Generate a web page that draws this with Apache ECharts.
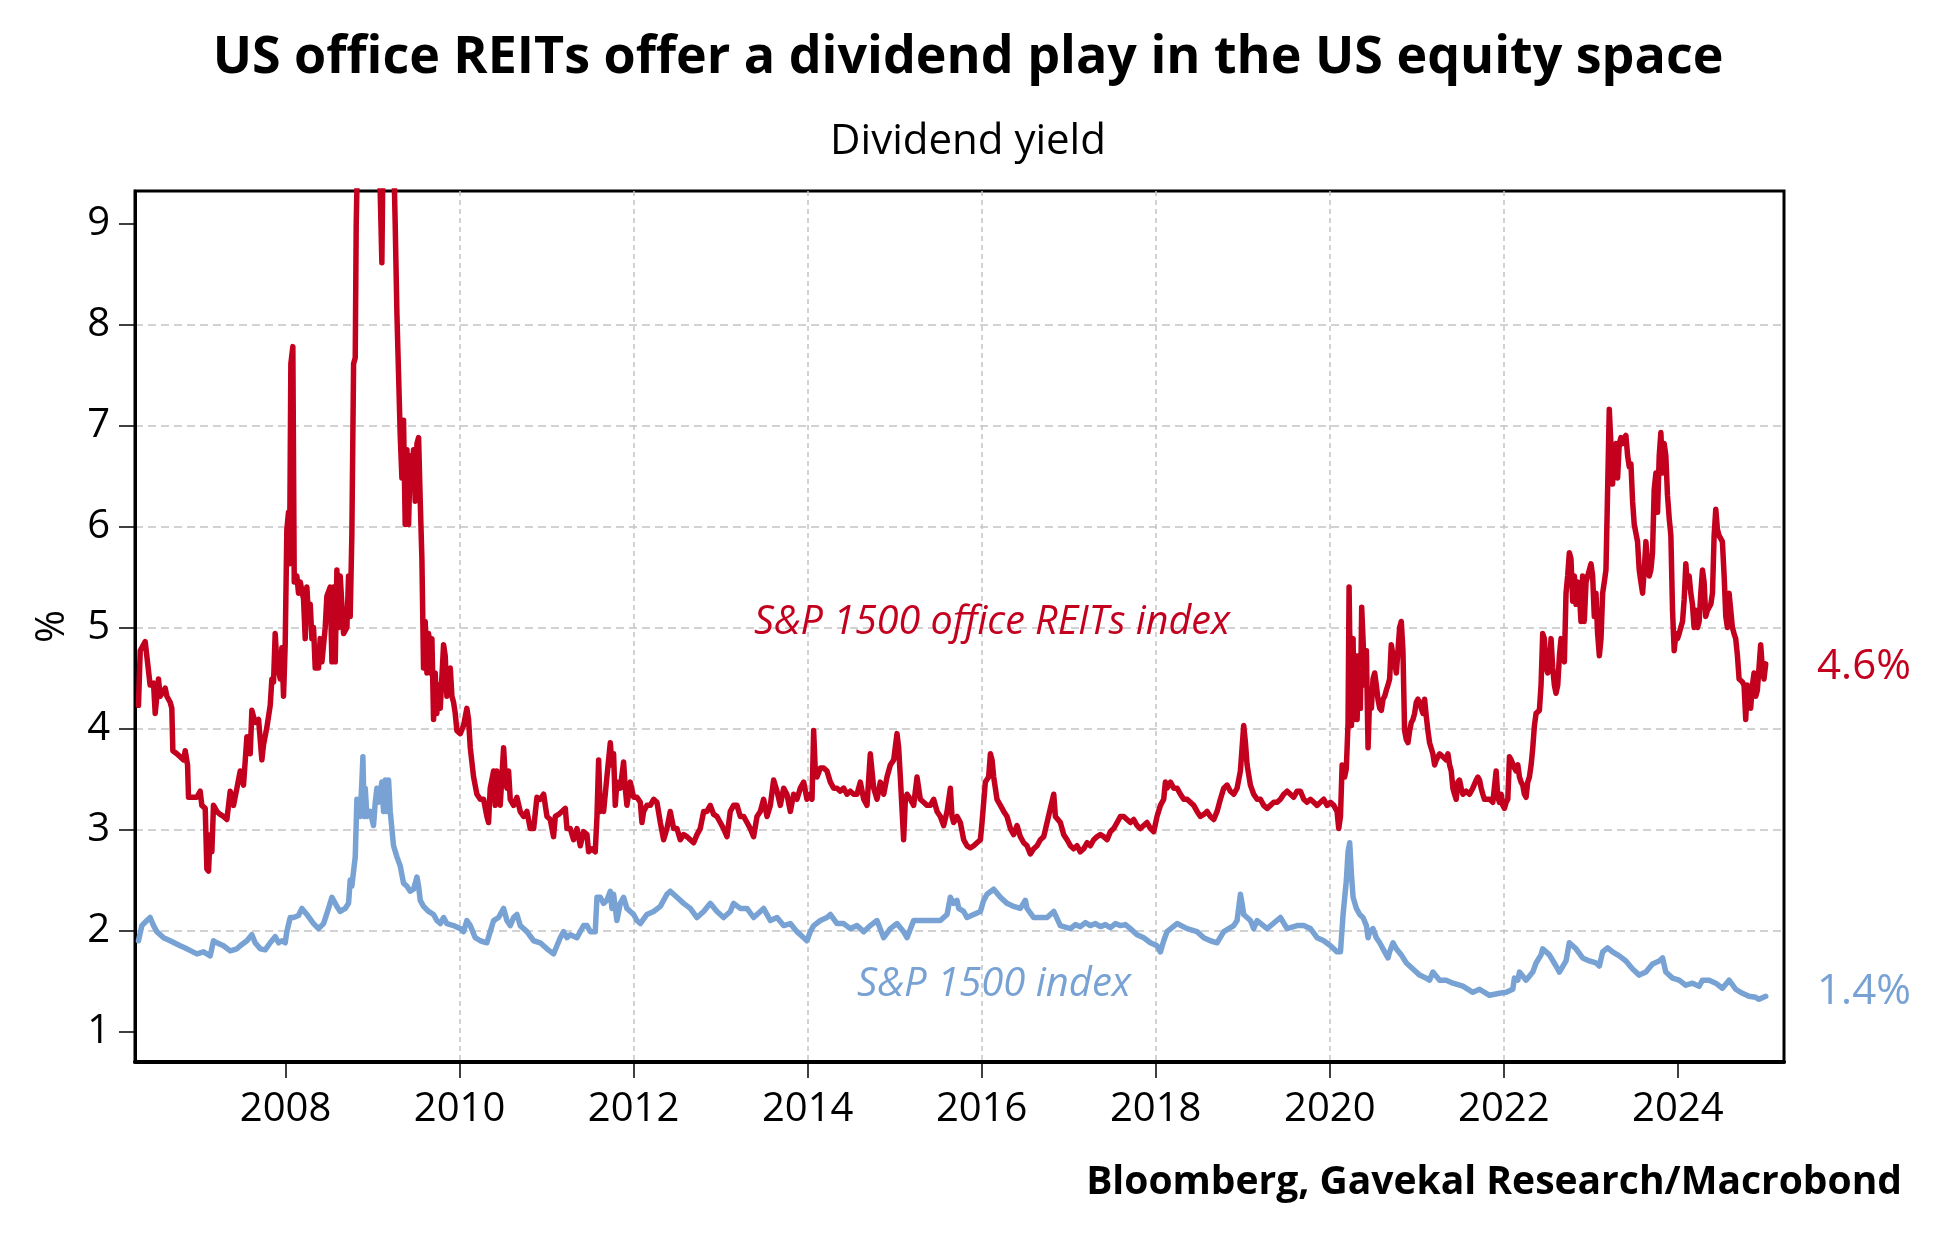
<!DOCTYPE html>
<html>
<head>
<meta charset="utf-8">
<title>US office REITs dividend yield</title>
<script src="https://cdn.jsdelivr.net/npm/echarts@6.0.0/dist/echarts.min.js"></script>
<style>
  html, body { margin: 0; padding: 0; background: #ffffff; }
  #chart { width: 1937px; height: 1250px; }
</style>
</head>
<body>
<div id="chart"></div>
<script>
// ---------- DATA ----------
const chartTitle = 'US office REITs offer a dividend play in the US equity space';
const chartSubtitle = 'Dividend yield';
const sourceText = 'Bloomberg, Gavekal Research/Macrobond';
const reitName = 'S&P 1500 office REITs index';
const spxName = 'S&P 1500 index';
const reitLast = '4.6%';
const spxLast = '1.4%';
const yAxisName = '%';

const xTickYears = [2008, 2010, 2012, 2014, 2016, 2018, 2020, 2022, 2024];
const yTickValues = [1, 2, 3, 4, 5, 6, 7, 8, 9];

// S&P 1500 office REITs index dividend yield (%), decimal years
const reitYears = [
2006.31,2006.33,2006.387,2006.444,2006.483,2006.502,2006.54,2006.559,2006.617,2006.636,2006.674,2006.693,2006.705,2006.751,2006.828,2006.847,2006.874,2006.885,2006.981,
2007.019,2007.038,2007.077,2007.096,2007.115,2007.134,2007.153,2007.172,2007.211,2007.249,2007.287,2007.326,2007.364,2007.402,2007.441,2007.479,2007.517,2007.556,2007.594,2007.613,2007.651,2007.69,2007.728,2007.747,2007.785,2007.824,2007.843,2007.862,2007.881,2007.9,2007.939,2007.958,2007.977,2007.996,
2008.015,2008.034,2008.046,2008.061,2008.084,2008.1,2008.13,2008.149,2008.169,2008.207,2008.226,2008.245,2008.264,2008.284,2008.303,2008.322,2008.341,2008.379,2008.398,2008.418,2008.456,2008.475,2008.513,2008.533,2008.552,2008.571,2008.59,2008.609,2008.628,2008.667,2008.705,2008.724,2008.743,2008.762,2008.782,2008.801,2008.812,2008.839,2008.877,2008.935,
2009.011,2009.069,2009.107,2009.126,2009.184,2009.222,2009.26,2009.28,2009.299,2009.318,2009.337,2009.356,2009.375,2009.395,2009.414,2009.433,2009.452,2009.471,2009.49,2009.51,2009.529,2009.548,2009.567,2009.586,2009.605,2009.625,2009.644,2009.663,2009.682,2009.701,2009.72,2009.739,2009.759,2009.778,2009.816,2009.835,2009.854,2009.874,2009.893,2009.912,2009.931,2009.95,2009.969,
2010.008,2010.046,2010.084,2010.103,2010.123,2010.161,2010.199,2010.238,2010.276,2010.314,2010.333,2010.352,2010.391,2010.41,2010.429,2010.467,2010.506,2010.525,2010.544,2010.563,2010.582,2010.621,2010.659,2010.697,2010.736,2010.774,2010.812,2010.851,2010.889,2010.927,2010.966,
2011.004,2011.042,2011.08,2011.1,2011.138,2011.176,2011.215,2011.234,2011.272,2011.31,2011.349,2011.387,2011.425,2011.464,2011.483,2011.521,2011.559,2011.579,2011.598,2011.617,2011.636,2011.655,2011.693,2011.732,2011.751,2011.77,2011.789,2011.808,2011.847,2011.885,2011.904,2011.923,2011.962,
2012.0,2012.038,2012.077,2012.096,2012.115,2012.153,2012.192,2012.23,2012.268,2012.307,2012.345,2012.383,2012.421,2012.46,2012.498,2012.536,2012.575,2012.613,2012.651,2012.69,2012.728,2012.766,2012.805,2012.843,2012.881,2012.92,2012.958,2012.996,
2013.034,2013.073,2013.111,2013.149,2013.188,2013.226,2013.264,2013.303,2013.341,2013.379,2013.418,2013.456,2013.494,2013.533,2013.571,2013.609,2013.648,2013.686,2013.724,2013.762,2013.801,2013.839,2013.877,2013.916,2013.954,2013.992,
2014.031,2014.05,2014.069,2014.088,2014.107,2014.146,2014.184,2014.222,2014.261,2014.299,2014.337,2014.375,2014.414,2014.452,2014.49,2014.529,2014.567,2014.605,2014.644,2014.682,2014.72,2014.759,2014.797,2014.835,2014.874,2014.912,2014.95,2014.989,
2015.027,2015.046,2015.065,2015.103,2015.123,2015.142,2015.18,2015.218,2015.257,2015.276,2015.295,2015.333,2015.372,2015.41,2015.448,2015.487,2015.525,2015.563,2015.602,2015.64,2015.659,2015.678,2015.716,2015.755,2015.793,2015.831,2015.87,2015.908,2015.946,2015.985,
2016.004,2016.042,2016.08,2016.1,2016.119,2016.138,2016.157,2016.176,2016.215,2016.253,2016.291,2016.33,2016.368,2016.406,2016.444,2016.483,2016.521,2016.559,2016.598,2016.636,2016.674,2016.713,2016.751,2016.789,2016.828,2016.847,2016.866,2016.904,2016.943,2016.981,
2017.019,2017.057,2017.096,2017.134,2017.172,2017.211,2017.249,2017.287,2017.326,2017.364,2017.402,2017.441,2017.479,2017.517,2017.556,2017.594,2017.632,2017.67,2017.709,2017.747,2017.785,2017.824,2017.862,2017.9,2017.939,2017.977,
2018.015,2018.054,2018.092,2018.111,2018.13,2018.169,2018.207,2018.245,2018.284,2018.322,2018.36,2018.398,2018.437,2018.475,2018.513,2018.552,2018.59,2018.628,2018.667,2018.705,2018.743,2018.782,2018.82,2018.858,2018.897,2018.935,2018.973,
2019.011,2019.031,2019.05,2019.088,2019.126,2019.165,2019.203,2019.241,2019.28,2019.318,2019.356,2019.395,2019.433,2019.471,2019.51,2019.548,2019.586,2019.625,2019.663,2019.701,2019.739,2019.778,2019.816,2019.854,2019.893,2019.931,2019.969,
2020.008,2020.046,2020.084,2020.103,2020.123,2020.142,2020.17,2020.19,2020.21,2020.222,2020.237,2020.249,2020.268,2020.279,2020.298,2020.314,2020.337,2020.352,2020.367,2020.382,2020.402,2020.421,2020.44,2020.459,2020.478,2020.497,2020.516,2020.535,2020.554,2020.574,2020.593,2020.612,2020.631,2020.65,2020.669,2020.688,2020.707,2020.727,2020.746,2020.765,2020.784,2020.803,2020.822,2020.841,2020.86,2020.88,2020.899,2020.918,2020.937,2020.956,2020.975,2020.994,
2021.013,2021.033,2021.052,2021.071,2021.09,2021.109,2021.128,2021.147,2021.185,2021.205,2021.224,2021.262,2021.3,2021.338,2021.358,2021.377,2021.396,2021.415,2021.434,2021.453,2021.472,2021.491,2021.511,2021.53,2021.568,2021.606,2021.644,2021.683,2021.702,2021.721,2021.74,2021.759,2021.778,2021.797,2021.836,2021.874,2021.912,2021.931,2021.95,2021.969,2021.989,
2022.008,2022.027,2022.046,2022.065,2022.084,2022.103,2022.122,2022.141,2022.161,2022.18,2022.199,2022.218,2022.237,2022.256,2022.275,2022.294,2022.314,2022.333,2022.352,2022.371,2022.39,2022.409,2022.428,2022.447,2022.466,2022.486,2022.505,2022.524,2022.543,2022.562,2022.581,2022.6,2022.62,2022.639,2022.658,2022.677,2022.696,2022.715,2022.734,2022.753,2022.772,2022.792,2022.811,2022.83,2022.849,2022.868,2022.887,2022.906,2022.925,2022.945,2022.964,2022.983,
2023.002,2023.021,2023.04,2023.059,2023.078,2023.098,2023.117,2023.136,2023.155,2023.174,2023.193,2023.212,2023.231,2023.25,2023.27,2023.289,2023.308,2023.327,2023.346,2023.365,2023.384,2023.403,2023.423,2023.442,2023.461,2023.48,2023.499,2023.518,2023.537,2023.556,2023.576,2023.595,2023.614,2023.633,2023.652,2023.671,2023.69,2023.709,2023.728,2023.748,2023.767,2023.786,2023.805,2023.824,2023.843,2023.862,2023.881,2023.901,2023.92,2023.939,2023.958,2023.977,2023.996,
2024.015,2024.034,2024.054,2024.073,2024.092,2024.111,2024.13,2024.149,2024.168,2024.187,2024.207,2024.226,2024.245,2024.264,2024.283,2024.302,2024.321,2024.34,2024.359,2024.379,2024.398,2024.417,2024.436,2024.455,2024.474,2024.493,2024.512,2024.532,2024.551,2024.57,2024.589,2024.608,2024.627,2024.646,2024.665,2024.685,2024.704,2024.723,2024.742,2024.761,2024.78,2024.799,2024.818,2024.837,2024.857,2024.876,2024.895,2024.914,2024.933,2024.952,2024.971,2024.99,2025.01
];
const reitYield = [
4.23,4.77,4.86,4.43,4.45,4.15,4.49,4.32,4.40,4.32,4.26,4.20,3.78,3.75,3.69,3.78,3.64,3.32,3.32,
3.38,3.24,3.21,2.61,2.59,2.95,2.78,3.24,3.18,3.15,3.13,3.10,3.38,3.24,3.41,3.58,3.44,3.92,3.75,4.18,4.06,4.09,3.69,3.84,4.01,4.23,4.49,4.46,4.94,4.66,4.49,4.80,4.32,4.83,
5.97,6.14,5.63,7.61,7.78,5.45,5.51,5.34,5.45,5.28,4.89,5.40,5.11,5.23,4.89,5.00,4.60,4.60,4.89,4.66,5.00,5.31,5.40,4.66,5.40,4.66,5.57,5.00,5.51,4.94,5.00,5.51,5.11,5.91,7.61,7.67,8.98,10.2,11.0,11.5,
10.8,10.0,8.61,10.2,11.2,10.5,9.0,8.1,7.5,6.9,6.48,7.05,6.02,6.76,6.02,6.70,6.48,6.76,6.25,6.82,6.88,6.25,5.68,4.60,5.06,4.55,4.94,4.55,4.89,4.09,4.55,4.15,4.43,4.20,4.83,4.72,4.32,4.38,4.60,4.32,4.26,4.15,3.98,
3.95,4.03,4.20,4.09,3.81,3.52,3.35,3.30,3.30,3.13,3.07,3.41,3.58,3.24,3.58,3.24,3.81,3.52,3.41,3.58,3.30,3.24,3.32,3.18,3.13,3.18,3.01,3.01,3.32,3.30,3.35,
3.13,3.10,2.93,3.13,3.15,3.18,3.21,3.01,3.01,2.90,3.01,2.84,2.98,2.95,2.78,2.81,2.78,3.13,3.69,3.18,3.30,3.18,3.52,3.86,3.64,3.75,3.24,3.47,3.41,3.67,3.41,3.24,3.47,
3.32,3.32,3.27,3.07,3.18,3.24,3.24,3.30,3.27,3.07,2.90,3.01,3.18,3.01,3.01,2.90,2.95,2.93,2.90,2.87,2.95,3.01,3.18,3.18,3.24,3.15,3.13,3.07,
3.01,2.93,3.18,3.24,3.24,3.13,3.13,3.07,3.01,2.93,3.13,3.18,3.30,3.13,3.24,3.49,3.38,3.24,3.41,3.35,3.18,3.35,3.30,3.41,3.47,3.30,
3.35,3.30,3.98,3.58,3.52,3.61,3.61,3.58,3.47,3.41,3.41,3.38,3.41,3.35,3.38,3.35,3.35,3.47,3.30,3.24,3.75,3.41,3.30,3.47,3.35,3.52,3.64,3.69,
3.95,3.81,3.52,2.90,3.30,3.35,3.30,3.24,3.52,3.52,3.30,3.27,3.24,3.24,3.30,3.18,3.13,3.04,3.18,3.41,3.13,3.07,3.13,3.07,2.90,2.84,2.82,2.84,2.87,2.90,
3.07,3.47,3.52,3.75,3.69,3.52,3.41,3.30,3.24,3.18,3.13,3.01,2.95,3.04,2.93,2.87,2.84,2.76,2.81,2.84,2.90,2.93,3.07,3.21,3.35,3.13,3.13,3.07,2.95,2.90,
2.84,2.81,2.84,2.78,2.81,2.87,2.84,2.90,2.93,2.95,2.93,2.90,2.98,3.01,3.07,3.13,3.13,3.10,3.07,3.10,3.04,3.01,3.04,3.07,3.01,2.98,
3.13,3.24,3.30,3.47,3.41,3.47,3.41,3.41,3.35,3.30,3.30,3.27,3.24,3.18,3.13,3.15,3.18,3.13,3.10,3.18,3.30,3.41,3.44,3.38,3.35,3.41,3.58,
4.03,3.86,3.64,3.44,3.35,3.30,3.30,3.24,3.21,3.24,3.27,3.27,3.30,3.35,3.38,3.35,3.32,3.38,3.38,3.30,3.27,3.30,3.27,3.24,3.27,3.30,3.24,
3.27,3.24,3.18,3.01,3.13,3.64,3.52,3.60,4.05,5.40,4.43,4.03,4.89,4.09,4.72,4.09,4.72,4.20,5.20,4.89,4.43,4.77,3.81,4.32,4.20,4.49,4.55,4.43,4.29,4.20,4.18,4.29,4.32,4.38,4.43,4.49,4.83,4.72,4.66,4.55,4.55,5.00,5.06,4.77,3.98,3.89,3.86,3.98,4.06,4.09,4.15,4.26,
4.29,4.26,4.20,4.15,4.29,4.12,3.98,3.86,3.75,3.64,3.69,3.75,3.72,3.69,3.75,3.64,3.58,3.41,3.35,3.30,3.47,3.49,3.41,3.35,3.38,3.35,3.41,3.49,3.52,3.49,3.41,3.35,3.30,3.30,3.30,3.27,3.58,3.32,3.27,3.35,3.24,
3.21,3.27,3.30,3.72,3.69,3.69,3.61,3.58,3.64,3.52,3.47,3.44,3.35,3.32,3.47,3.52,3.64,3.81,4.03,4.15,4.15,4.18,4.43,4.94,4.89,4.60,4.55,4.60,4.89,4.60,4.43,4.35,4.43,4.72,4.89,4.89,4.66,5.34,5.51,5.74,5.68,5.26,5.51,5.23,5.45,5.34,5.06,5.51,5.06,5.45,5.51,5.57,
5.63,5.51,5.11,5.34,4.94,4.72,4.89,5.34,5.45,5.57,6.36,7.16,6.82,6.42,6.76,6.82,6.48,6.82,6.88,6.82,6.88,6.90,6.70,6.59,6.62,6.25,6.02,6.02,5.85,5.57,5.45,5.34,5.57,5.85,5.63,5.51,5.57,5.74,6.36,6.53,6.14,6.70,6.93,6.53,6.82,6.70,6.31,6.08,5.91,5.17,4.77,4.94,4.89,
4.94,5.00,5.06,5.28,5.63,5.40,5.51,5.34,5.23,5.00,5.17,5.00,5.06,5.34,5.57,5.45,5.11,5.17,5.17,5.23,5.34,5.91,6.17,5.97,5.91,5.88,5.85,5.51,5.11,5.00,5.34,5.17,5.00,4.94,4.89,4.72,4.49,4.49,4.46,4.43,4.09,4.43,4.32,4.20,4.43,4.55,4.32,4.38,4.38,4.83,4.60,4.49,4.64
];

// S&P 1500 index dividend yield (%), decimal years
const spxYears = [
2006.31,2006.349,2006.406,2006.444,2006.483,2006.521,2006.598,2006.674,2006.789,2006.866,2006.981,
2007.057,2007.134,2007.172,2007.211,2007.287,2007.364,2007.441,2007.479,2007.556,2007.613,2007.651,2007.709,2007.766,2007.824,2007.881,2007.92,2007.958,2007.996,
2008.015,2008.054,2008.092,2008.149,2008.188,2008.245,2008.322,2008.379,2008.437,2008.494,2008.533,2008.59,2008.628,2008.686,2008.724,2008.743,2008.762,2008.801,2008.82,2008.858,2008.877,2008.889,2008.904,2008.916,2008.935,2008.973,
2009.011,2009.031,2009.05,2009.069,2009.107,2009.126,2009.146,2009.165,2009.184,2009.203,2009.241,2009.28,2009.318,2009.356,2009.395,2009.433,2009.471,2009.51,2009.529,2009.548,2009.586,2009.644,2009.701,2009.739,2009.778,2009.816,2009.854,2009.931,
2010.008,2010.046,2010.084,2010.123,2010.18,2010.238,2010.314,2010.352,2010.391,2010.448,2010.506,2010.544,2010.582,2010.621,2010.659,2010.697,2010.774,2010.851,2010.927,
2011.004,2011.08,2011.119,2011.157,2011.195,2011.234,2011.272,2011.349,2011.387,2011.425,2011.464,2011.502,2011.559,2011.579,2011.617,2011.655,2011.693,2011.732,2011.751,2011.77,2011.808,2011.847,2011.885,2011.923,2011.962,
2012.0,2012.038,2012.077,2012.153,2012.23,2012.307,2012.383,2012.421,2012.498,2012.575,2012.651,2012.728,2012.805,2012.881,2012.958,
2013.034,2013.111,2013.149,2013.226,2013.303,2013.379,2013.456,2013.494,2013.571,2013.648,2013.724,2013.801,2013.877,2013.954,2013.992,
2014.031,2014.069,2014.146,2014.222,2014.261,2014.337,2014.414,2014.49,2014.567,2014.644,2014.72,2014.797,2014.874,2014.95,
2015.027,2015.103,2015.142,2015.218,2015.295,2015.372,2015.448,2015.525,2015.602,2015.64,2015.678,2015.716,2015.736,2015.793,2015.831,2015.908,2015.985,
2016.023,2016.061,2016.138,2016.215,2016.291,2016.368,2016.444,2016.502,2016.521,2016.598,2016.674,2016.751,2016.828,2016.904,
2017.019,2017.077,2017.134,2017.192,2017.249,2017.307,2017.364,2017.422,2017.479,2017.537,2017.594,2017.652,2017.709,2017.785,2017.862,2017.939,
2018.015,2018.054,2018.092,2018.13,2018.245,2018.36,2018.475,2018.552,2018.628,2018.705,2018.782,2018.897,2018.935,2018.973,2018.992,
2019.011,2019.088,2019.126,2019.165,2019.28,2019.433,2019.51,2019.625,2019.701,2019.778,2019.854,2019.931,
2020.008,2020.084,2020.123,2020.153,2020.191,2020.21,2020.229,2020.249,2020.268,2020.306,2020.344,2020.382,2020.421,2020.44,2020.459,2020.497,2020.535,2020.574,2020.612,2020.669,2020.688,2020.727,2020.765,2020.822,2020.88,2020.956,
2021.033,2021.109,2021.147,2021.185,2021.262,2021.338,2021.415,2021.53,2021.644,2021.721,2021.836,2021.95,
2022.027,2022.103,2022.122,2022.161,2022.18,2022.256,2022.333,2022.371,2022.428,2022.447,2022.524,2022.6,2022.639,2022.715,2022.753,2022.83,2022.906,2022.983,
2023.059,2023.098,2023.136,2023.193,2023.25,2023.327,2023.403,2023.48,2023.556,2023.633,2023.709,2023.786,2023.824,2023.862,2023.939,
2024.015,2024.092,2024.168,2024.245,2024.283,2024.359,2024.436,2024.512,2024.589,2024.665,2024.742,2024.818,2024.895,2024.933,2025.01
];
const spxYield = [
1.90,2.05,2.10,2.13,2.05,1.99,1.93,1.90,1.85,1.82,1.77,
1.79,1.75,1.90,1.88,1.85,1.80,1.82,1.85,1.90,1.96,1.88,1.82,1.81,1.88,1.94,1.88,1.90,1.88,
1.99,2.13,2.13,2.15,2.22,2.16,2.07,2.02,2.07,2.22,2.33,2.24,2.19,2.22,2.27,2.50,2.44,2.73,3.30,3.13,3.47,3.72,3.13,3.41,3.13,3.18,
3.04,3.27,3.41,3.27,3.47,3.18,3.49,3.18,3.49,3.18,2.84,2.73,2.64,2.47,2.44,2.39,2.41,2.53,2.44,2.30,2.24,2.19,2.16,2.10,2.07,2.13,2.07,2.05,
2.02,1.99,2.10,2.05,1.93,1.90,1.88,1.99,2.10,2.13,2.22,2.10,2.05,2.13,2.16,2.05,1.99,1.90,1.88,
1.82,1.77,1.85,1.93,1.99,1.93,1.96,1.93,1.99,2.05,2.05,1.99,1.99,2.33,2.33,2.27,2.30,2.39,2.22,2.36,2.10,2.27,2.33,2.22,2.19,
2.16,2.10,2.07,2.16,2.19,2.24,2.36,2.39,2.33,2.27,2.22,2.13,2.19,2.27,2.19,
2.13,2.19,2.27,2.22,2.22,2.13,2.19,2.22,2.10,2.13,2.05,2.07,1.99,1.93,1.90,
1.99,2.05,2.10,2.13,2.16,2.07,2.07,2.02,2.05,1.99,2.05,2.10,1.93,2.02,
2.07,1.99,1.93,2.10,2.10,2.10,2.10,2.10,2.16,2.33,2.27,2.30,2.22,2.19,2.13,2.16,2.19,
2.30,2.36,2.41,2.33,2.27,2.24,2.22,2.30,2.22,2.13,2.13,2.13,2.19,2.05,
2.02,2.06,2.04,2.08,2.05,2.07,2.04,2.06,2.03,2.07,2.05,2.06,2.02,1.96,1.93,1.88,
1.85,1.79,1.90,1.99,2.07,2.02,1.99,1.93,1.90,1.88,1.99,2.05,2.10,2.36,2.27,
2.16,2.10,2.02,2.10,2.02,2.13,2.02,2.05,2.05,2.02,1.93,1.90,
1.85,1.79,1.79,2.16,2.50,2.78,2.87,2.56,2.33,2.22,2.16,2.13,2.05,1.93,1.99,2.02,1.93,1.88,1.82,1.73,1.79,1.88,1.82,1.76,1.68,1.62,
1.56,1.53,1.51,1.59,1.51,1.51,1.48,1.45,1.39,1.42,1.36,1.38,
1.39,1.42,1.53,1.51,1.59,1.51,1.59,1.68,1.76,1.82,1.76,1.65,1.59,1.70,1.88,1.82,1.73,1.70,
1.68,1.65,1.79,1.83,1.79,1.75,1.70,1.62,1.56,1.59,1.67,1.70,1.73,1.59,1.53,
1.51,1.46,1.48,1.45,1.51,1.51,1.48,1.43,1.51,1.42,1.38,1.35,1.34,1.32,1.35
];

// ---------- CHART ----------
const RED = '#c4001f';
const BLUE = '#77a2d3';
const FONT = '"Open Sans", "Noto Sans", sans-serif';

const reitData = reitYears.map((t, i) => [t, reitYield[i]]);
const spxData = spxYears.map((t, i) => [t, spxYield[i]]);

const chart = echarts.init(document.getElementById('chart'), null, { renderer: 'canvas' });

const option = {
  animation: false,
  backgroundColor: '#ffffff',
  textStyle: { fontFamily: FONT },
  grid: {
    left: 135, right: 153, top: 191, bottom: 188,
    show: true, borderColor: '#000', borderWidth: 3, backgroundColor: 'transparent',
    containLabel: false, outerBoundsMode: 'none'
  },
  xAxis: {
    type: 'value',
    min: 2006.27, max: 2025.22,
    splitNumber: 9,
    axisLine: { show: true, onZero: false, lineStyle: { color: '#000', width: 4 } },
    axisTick: { show: true, inside: false, length: 16, customValues: xTickYears, lineStyle: { color: '#000', width: 1.5 } },
    axisLabel: { show: true, customValues: xTickYears, margin: 28, fontSize: 40, color: '#000', fontFamily: FONT,
      formatter: v => String(Math.round(v)) },
    splitLine: { show: true, showMinLine: false, showMaxLine: false,
      lineStyle: { color: '#c4c4c4', width: 1.5, type: [5, 4] } }
  },
  yAxis: {
    type: 'value',
    min: 0.7, max: 9.32,
    splitNumber: 8,
    name: yAxisName, nameLocation: 'middle', nameGap: 62, nameRotate: 90,
    nameTextStyle: { fontSize: 40, color: '#000', fontFamily: FONT },
    axisLine: { show: true, onZero: false, lineStyle: { color: '#000', width: 3 } },
    axisTick: { show: true, inside: false, length: 16, customValues: yTickValues, lineStyle: { color: '#000', width: 1.5 } },
    axisLabel: { show: true, customValues: yTickValues, margin: 25, fontSize: 40, color: '#000', fontFamily: FONT },
    splitLine: { show: true, showMinLine: false, showMaxLine: false,
      lineStyle: { color: '#c4c4c4', width: 1.5, type: [8, 5] } }
  },
  series: [
    {
      name: spxName, type: 'line', data: spxData, showSymbol: false, clip: true,
      lineStyle: { color: BLUE, width: 5.5, join: 'round', cap: 'round' }, itemStyle: { color: BLUE }, z: 3
    },
    {
      name: reitName, type: 'line', data: reitData, showSymbol: false, clip: true,
      lineStyle: { color: RED, width: 5.5, join: 'round', cap: 'round' }, itemStyle: { color: RED }, z: 4
    }
  ],
  graphic: [
    { type: 'text', x: 968, y: 58, style: { text: chartTitle, fill: '#000', font: 'bold 52px ' + FONT, textAlign: 'center', textVerticalAlign: 'middle' } },
    { type: 'text', x: 968, y: 142, style: { text: chartSubtitle, fill: '#000', font: '42px ' + FONT, textAlign: 'center', textVerticalAlign: 'middle' } },
    { type: 'text', x: 992, y: 623, z: 10, style: { text: reitName, fill: RED, font: 'italic 39.5px ' + FONT, textAlign: 'center', textVerticalAlign: 'middle' } },
    { type: 'text', x: 994, y: 985, z: 10, style: { text: spxName, fill: BLUE, font: 'italic 40px ' + FONT, textAlign: 'center', textVerticalAlign: 'middle' } },
    { type: 'text', x: 1864, y: 667, style: { text: reitLast, fill: RED, font: '42px ' + FONT, textAlign: 'center', textVerticalAlign: 'middle' } },
    { type: 'text', x: 1864, y: 992, style: { text: spxLast, fill: BLUE, font: '42px ' + FONT, textAlign: 'center', textVerticalAlign: 'middle' } },
    { type: 'text', x: 1902, y: 1183, style: { text: sourceText, fill: '#000', font: 'bold 39px ' + FONT, textAlign: 'right', textVerticalAlign: 'middle' } }
  ]
};
chart.setOption(option);
</script>
</body>
</html>
